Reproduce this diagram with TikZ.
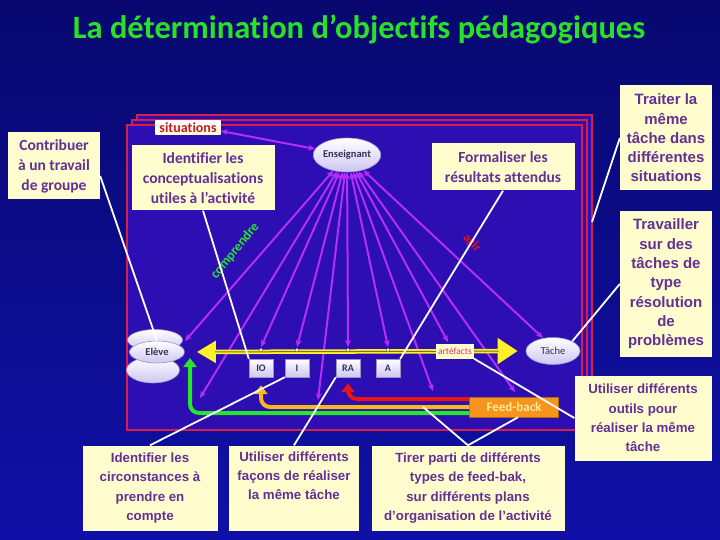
\documentclass[tikz,border=0pt]{standalone}
\usepackage{fontspec}
\setmainfont[Ligatures=NoCommon]{Carlito}
\newfontfamily\boxfont{Liberation Sans}
\usetikzlibrary{arrows.meta,positioning,shapes.geometric}

\definecolor{bgtop}{RGB}{8,8,112}
\definecolor{bgbot}{RGB}{16,16,168}
\definecolor{innerblue}{RGB}{44,14,178}
\definecolor{framered}{RGB}{215,30,70}
\definecolor{fanviolet}{RGB}{180,45,250}
\definecolor{notebg}{RGB}{255,252,205}
\definecolor{notetext}{RGB}{98,48,150}
\definecolor{titlegreen}{RGB}{40,225,40}
\definecolor{disk}{RGB}{205,198,242}
\definecolor{diskline}{RGB}{150,150,195}
\definecolor{disktext}{RGB}{50,50,85}
\definecolor{fborange}{RGB}{247,148,29}
\definecolor{fbtext}{RGB}{255,236,150}
\definecolor{fbred}{RGB}{235,20,20}
\definecolor{fbyellow}{RGB}{245,185,30}
\definecolor{fbgreen}{RGB}{40,230,40}
\definecolor{baryellow}{RGB}{255,240,40}
\definecolor{barcore}{RGB}{120,110,40}
\definecolor{sittext}{RGB}{190,30,40}
\definecolor{artetext}{RGB}{220,50,110}

\tikzset{
  note/.style={fill=notebg, text=notetext, align=center, inner sep=0pt,
    font=\fontsize{15.5}{20}\selectfont\bfseries},
  wnote/.style={note, font=\boxfont\fontsize{15}{19.3}\selectfont\bfseries},
  bnote/.style={note, font=\boxfont\fontsize{13.3}{19.3}\selectfont\bfseries},
  disc/.style={ellipse, draw=diskline, line width=0.6pt, top color=white,
    bottom color=disk, text=disktext, inner sep=0pt,
    font=\fontsize{10.5}{11}\selectfont\bfseries},
  tag/.style={rectangle, draw=diskline, line width=0.4pt, top color=white, bottom color=disk, text=disktext,
    minimum width=24pt, minimum height=18pt, inner sep=0pt,
    font=\fontsize{10}{10}\selectfont\bfseries},
  fan/.style={fanviolet, line width=2pt, {Stealth[length=7pt,width=6pt]}-{Stealth[length=7pt,width=6pt]}},
  pointer/.style={white, line width=1.8pt},
  fbline/.style={line width=4pt, rounded corners=9pt, -{Triangle[length=9pt,width=13pt]}},
  frame/.style={framered, line width=2.4pt, fill=innerblue}
}

\begin{document}
\begin{tikzpicture}[x=1pt,y=-1pt]
  % fond
  \shade[top color=bgtop, bottom color=bgbot] (0,0) rectangle (720,540);
  \useasboundingbox (0,0) rectangle (720,540);
  \node[font=\fontsize{32.5}{36}\selectfont\bfseries, text=titlegreen] (title) at (359,29) {La détermination d’objectifs pédagogiques};

  % cadre des situations
  \draw[frame] (137,115) rectangle (592,420);
  \draw[frame] (132,120) rectangle (587,425);
  \draw[frame] (127,125) rectangle (582,430);
  \coordinate (sitpt) at (592,222);
  \node[top color=white, bottom color=notebg, text=sittext, inner xsep=4pt, inner ysep=0pt,
    minimum height=14pt, font=\fontsize{14}{14}\selectfont\bfseries] (sit) at (188,128) {situations};

  % acteurs
  \node[disc, minimum width=63pt, minimum height=34pt] (ens) at (347,155) {Enseignant};
  \node[disc, minimum width=55pt, minimum height=21pt] (eleveA) at (155,340) {};
  \node[disc, minimum width=53pt, minimum height=26pt] (eleveB) at (153,370) {};
  \node[disc, minimum width=55pt, minimum height=22pt] (eleve) at (157,352) {Elève};
  \node[disc, minimum width=54pt, minimum height=27pt, font=\fontsize{10.5}{11}\selectfont] (tache) at (553,351) {Tâche};

  \node[tag] (io) at (261,368) {IO};
  \node[tag] (i) at (297,368) {I};
  \node[tag] (ra) at (348,368) {RA};
  \node[tag] (a) at (388,368) {A};

  % extremites des fleches
  \coordinate (f1) at (185,341);
  \coordinate (f2) at (200,398);
  \coordinate (f3) at (261,347);
  \coordinate (f4) at (297,347);
  \coordinate (f5) at (318,400);
  \coordinate (f6) at (348,347);
  \coordinate (f7) at (388,347);
  \coordinate (f8) at (433,391);
  \coordinate (f9) at (448,342);
  \coordinate (f10) at (515,392);
  \coordinate (f11) at (543,338);

  \path[fan]
    (ens) edge (f1)
    (ens) edge (f2)
    (ens) edge (f3)
    (ens) edge (f4)
    (ens) edge (f5)
    (ens) edge (f6)
    (ens) edge (f7)
    (ens) edge (f8)
    (ens) edge (f9)
    (ens) edge (f10)
    (ens) edge (f11)
    ([yshift=-3pt]sit.east) edge (ens)
    ;
  \node[rotate=51, text=fbgreen, font=\fontsize{13.5}{14}\selectfont\bfseries] (compr) at (235,251) {comprendre};
  \node[rotate=-45, text=fbred, font=\fontsize{12.5}{13}\selectfont\bfseries] (agir) at (472,243) {agir};

  % artefacts
  \draw[baryellow, line width=4.5pt, shorten <=12pt, shorten >=8pt,
    {Triangle[length=19pt,width=21pt]}-{Triangle[length=20pt,width=25pt]}] (eleve.east) -- (tache.west);
  \draw[barcore, line width=1pt, shorten <=30pt, shorten >=27pt] (eleve.east) -- (tache.west);
  \foreach \p in {f3,f4,f6,f7}
    \fill[white, draw=barcore, line width=0.4pt] ([yshift=-3pt]\p) circle (1.8pt);
  \node[fill=notebg, text=artetext, inner xsep=2pt, inner ysep=1pt, minimum height=15pt,
    font=\fontsize{9.5}{10}\selectfont] (artef) at (455,351) {artéfacts};

  % feed-back
  \node[fill=fborange, draw=fborange!70!black, line width=0.5pt, text=fbtext, minimum width=89pt, minimum height=20pt,
    inner sep=0pt, font=\fontsize{13}{13}\selectfont\bfseries] (fb) at (514,407) {Feed-back};
  \coordinate (gtip) at (190,358);
  \draw[fbline, fbred] ([yshift=8pt]fb.west) -| ([yshift=-6pt]ra.south);
  \draw[fbline, fbyellow] (fb.west) -| ([yshift=-8pt]io.south);
  \draw[fbline, fbgreen] ([yshift=-6pt]fb.west) -| (gtip);
  \coordinate (fbpt) at (423,407);

  % objectifs
  \node[note, minimum width=92pt, minimum height=67pt] (contrib) at (54,166) {Contribuer\\à un travail\\de groupe};
  \node[note, minimum width=143pt, minimum height=65pt] (concept) at (203,178) {Identifier les\\conceptualisations\\utiles à l’activité};
  \node[note, minimum width=143pt, minimum height=47pt] (formal) at (503,167) {Formaliser les\\résultats attendus};
  \node[wnote, minimum width=92pt, minimum height=105pt] (traiter) at (666,138) {Traiter la\\même\\tâche dans\\différentes\\situations};
  \node[wnote, minimum width=92pt, minimum height=145pt] (travail) at (666,284) {Travailler\\sur des\\tâches de\\type\\résolution\\de\\problèmes};
  \node[bnote, minimum width=137pt, minimum height=85pt] (outils) at (643,418) {Utiliser différents\\outils pour\\réaliser la même\\tâche};
  \node[bnote, minimum width=135pt, minimum height=85pt] (circ) at (150,488) {Identifier les\\circonstances à\\prendre en\\compte};
  \node[bnote, minimum width=130pt, minimum height=85pt] (facons) at (294,488) {Utiliser différents\\façons de réaliser\\la même tâche\\\strut};
  \node[bnote, minimum width=193pt, minimum height=85pt] (tirer) at (468,488) {Tirer parti de différents\\types de feed-bak,\\sur différents plans\\d’organisation de l’activité};

  % renvois
  \draw[pointer] ([yshift=-10pt]contrib.east) -- (eleve.north);
  \draw[pointer] (concept.south) -- (io.north west);
  \draw[pointer] (formal.south) -- (a.north east);
  \draw[pointer] (traiter.west) -- (sitpt);
  \draw[pointer] (travail.west) -- (tache.north east);
  \draw[pointer] (outils.west) -- (artef.south east);
  \draw[pointer] (circ.north) -- (i.south west);
  \draw[pointer] (facons.north) -- (ra.south west);
  \draw[pointer] (tirer.north) -- (fbpt);
  \draw[pointer] (tirer.north) -- ([xshift=4pt]fb.south);
\end{tikzpicture}
\end{document}
